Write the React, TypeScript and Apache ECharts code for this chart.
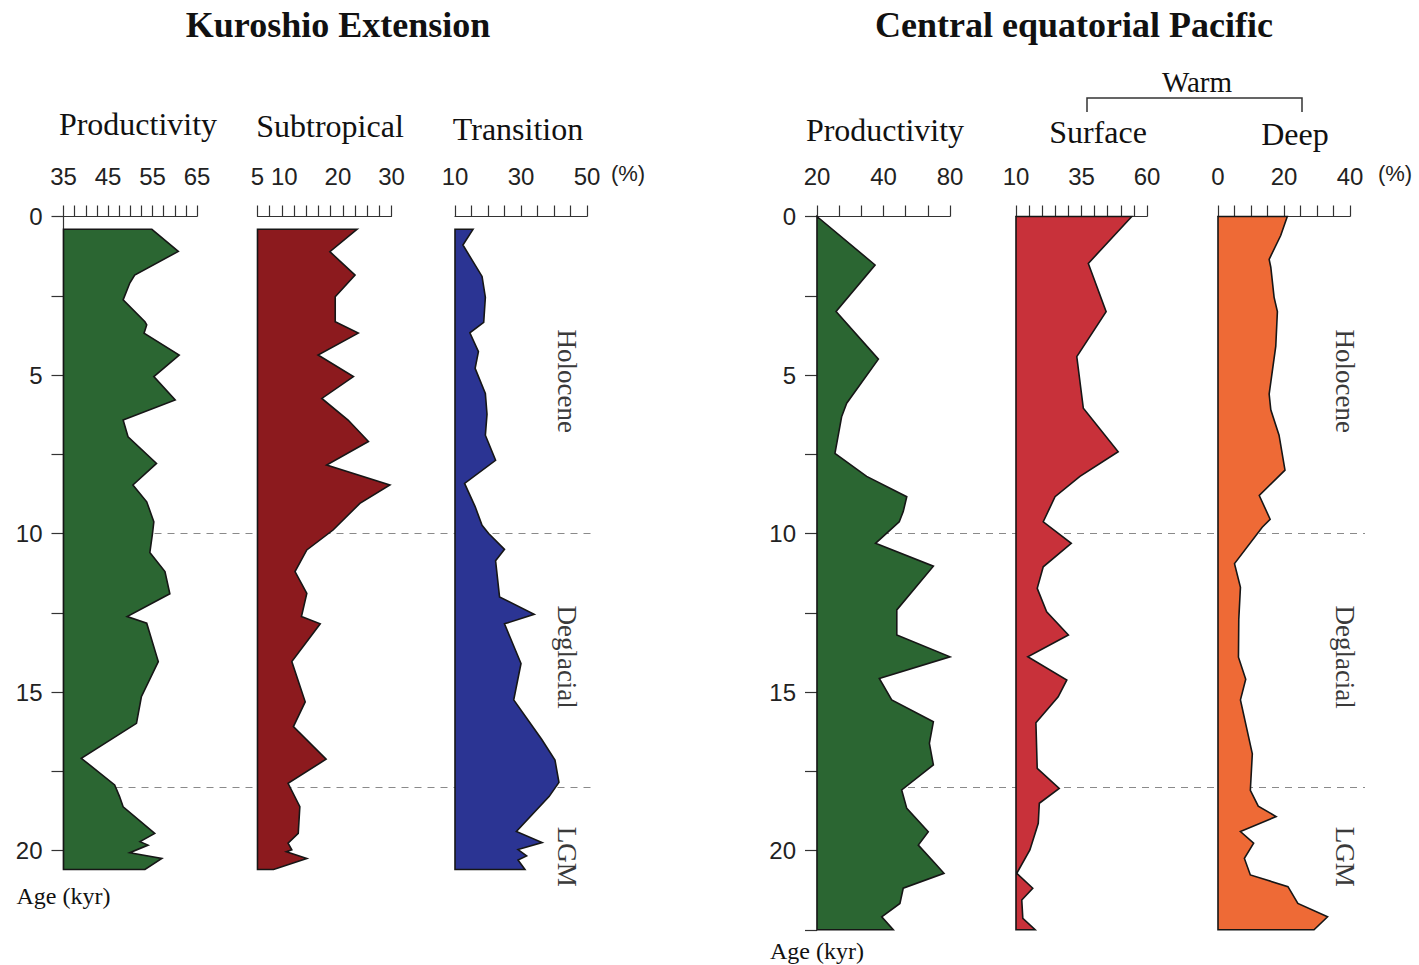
import React, { useEffect, useRef } from "react";
import * as echarts from "echarts";

// ---------------- data ----------------
// Kuroshio Extension
const kuroProdAge = [0.4, 1.1, 1.85, 2.1, 2.63, 3.32, 3.42, 3.68, 4.37, 5.05, 5.79, 6.42, 6.95, 7.79, 8.47, 9.0, 9.63, 10.0, 10.6, 11.2, 11.9, 12.62, 12.83, 14.04, 15.15, 15.99, 17.09, 17.93, 18.3, 18.62, 19.46, 19.72, 19.83, 20.07, 20.25, 20.6];
const kuroProdPct = [54.8, 60.8, 51.0, 49.9, 48.4, 53.3, 53.7, 53.1, 61.0, 55.3, 60.1, 48.4, 49.5, 55.9, 50.6, 53.7, 55.3, 55.0, 54.4, 57.8, 58.9, 49.3, 53.7, 56.3, 52.5, 51.4, 39.0, 46.5, 47.6, 48.4, 55.5, 52.2, 54.0, 49.9, 57.1, 53.3];

const kuroSubtAge = [0.4, 1.11, 1.85, 2.53, 3.32, 3.68, 4.37, 5.05, 5.74, 6.42, 7.1, 7.84, 8.47, 9.05, 9.89, 10.52, 11.2, 11.89, 12.62, 12.85, 14.04, 15.31, 16.09, 17.12, 17.88, 18.62, 19.46, 19.77, 19.98, 20.04, 20.25, 20.6];
const kuroSubtPct = [23.6, 18.5, 23.2, 19.5, 19.5, 23.8, 16.3, 22.9, 17.0, 21.9, 25.7, 17.9, 29.7, 24.1, 19.1, 14.2, 12.0, 14.2, 13.2, 16.7, 11.4, 13.9, 11.7, 17.8, 10.7, 12.9, 12.6, 10.7, 11.4, 10.4, 14.2, 8.0];

const kuroTranAge = [0.4, 0.9, 1.89, 2.55, 3.34, 3.67, 4.26, 4.79, 5.58, 6.24, 6.9, 7.69, 8.42, 9.15, 9.74, 10.0, 10.5, 10.86, 12.0, 12.55, 12.85, 14.1, 15.25, 16.5, 17.15, 17.85, 18.3, 19.4, 19.75, 19.97, 20.17, 20.3, 20.6];
const kuroTranPct = [15.5, 12.4, 18.2, 19.2, 18.7, 14.5, 17.1, 16.1, 19.2, 19.7, 19.2, 22.3, 12.9, 16.1, 18.2, 20.2, 25.0, 22.3, 23.5, 34.0, 25.0, 30.0, 27.8, 36.3, 40.3, 41.5, 38.5, 28.6, 36.4, 29.1, 31.7, 29.1, 31.2];

// Central equatorial Pacific
const cepProdAge = [0, 1.53, 3.0, 4.5, 5.89, 6.32, 7.47, 8.2, 8.84, 9.31, 9.63, 10.31, 11.03, 12.41, 13.2, 13.89, 14.57, 15.25, 15.94, 16.62, 17.3, 18.09, 18.67, 19.41, 19.83, 20.4, 20.72, 21.19, 21.67, 22.09, 22.5];
const cepProdPct = [20, 46.2, 28.6, 47.7, 33.4, 31.1, 28.1, 42.4, 60.5, 58.9, 57.1, 46.4, 72.5, 56.0, 56.0, 80.0, 48.1, 53.7, 72.5, 70.7, 72.5, 58.2, 60.5, 70.2, 65.7, 73.2, 77.3, 58.9, 57.4, 49.2, 54.4];

const cepSurfAge = [0, 1.48, 3.0, 4.42, 6.05, 7.42, 8.2, 8.84, 9.63, 10.31, 11.05, 11.73, 12.47, 13.2, 13.89, 14.62, 15.15, 15.97, 17.41, 18.04, 18.51, 19.14, 19.98, 20.72, 21.19, 21.56, 22.14, 22.5];
const cepSurfPct = [54.2, 37.6, 44.4, 33.2, 35.7, 49.0, 34.4, 24.9, 20.4, 31.1, 20.4, 18.1, 21.7, 30.0, 14.5, 29.4, 26.1, 17.6, 18.1, 26.5, 18.9, 18.5, 15.3, 10.3, 16.4, 12.2, 12.6, 17.3];

const cepDeepAge = [0, 0.6, 1.35, 1.6, 2.55, 3.0, 4.1, 5.6, 6.1, 6.9, 8.0, 8.8, 9.55, 9.8, 10.95, 11.7, 12.7, 13.9, 14.6, 15.25, 16.1, 16.95, 18.1, 18.6, 18.93, 19.4, 19.77, 20.25, 20.77, 21.14, 21.67, 22.09, 22.5];
const cepDeepPct = [21.0, 19.0, 15.5, 16.0, 17.0, 18.0, 17.5, 15.5, 16.0, 18.5, 20.3, 12.5, 15.8, 13.4, 5.0, 6.8, 6.3, 6.2, 8.4, 6.8, 8.6, 10.4, 9.8, 12.2, 17.6, 6.8, 10.8, 8.0, 9.8, 21.2, 24.2, 33.2, 29.1];

// axis tick labels
const kuroProdLabels = [35, 45, 55, 65];
const kuroSubtLabels = [5, 10, 20, 30];
const kuroTranLabels = [10, 30, 50];
const cepProdLabelVals = [20, 50, 80];
const cepProdLabelText = ["20", "40", "80"];
const cepSurfLabels = [10, 35, 60];
const cepDeepLabels = [0, 20, 40];
const ageLabels = [0, 5, 10, 15, 20];

const boundaryAges = [10, 18];
const periods = ["Holocene", "Deglacial", "LGM"];
const periodAges = [5.2, 13.9, 20.2];

const SERIF = "'Liberation Serif', 'Times New Roman', serif";
const SANS = "'Liberation Sans', Arial, sans-serif";

const steps = (a: number, b: number, n: number) =>
  Array.from({ length: n }, (_, k) => a + (k * (b - a)) / (n - 1));

type Col = {
  ages: number[];
  vals: number[];
  min: number;
  max: number;
  labelVals: number[];
  labelText?: string[];
  ticks: number[];
  color: string;
  left: number;
  width: number;
  panel: number;
  first: boolean;
};

const PANELS = [
  { top: 216.5, ageMax: 20.6, left: 63.5, right: 590.5, yTicks: steps(0, 20, 9) },
  { top: 216.5, ageMax: 22.5, left: 817, right: 1365, yTicks: steps(0, 22.5, 10) },
];
const PX_PER_KYR = 31.7;

const COLS: Col[] = [
  { ages: kuroProdAge, vals: kuroProdPct, min: 35, max: 65, labelVals: kuroProdLabels, ticks: steps(35, 65, 13), color: "#2b6632", left: 63.5, width: 133.5, panel: 0, first: true },
  { ages: kuroSubtAge, vals: kuroSubtPct, min: 5, max: 30, labelVals: kuroSubtLabels, ticks: steps(5, 30, 12), color: "#8c1a1e", left: 257.5, width: 134, panel: 0, first: false },
  { ages: kuroTranAge, vals: kuroTranPct, min: 10, max: 50, labelVals: kuroTranLabels, ticks: steps(10, 50, 9), color: "#2b3493", left: 455, width: 132, panel: 0, first: false },
  { ages: cepProdAge, vals: cepProdPct, min: 20, max: 80, labelVals: cepProdLabelVals, labelText: cepProdLabelText, ticks: steps(20, 80, 7), color: "#2b6632", left: 817, width: 133, panel: 1, first: true },
  { ages: cepSurfAge, vals: cepSurfPct, min: 10, max: 60, labelVals: cepSurfLabels, ticks: steps(10, 60, 11), color: "#c8313a", left: 1016, width: 131, panel: 1, first: false },
  { ages: cepDeepAge, vals: cepDeepPct, min: 0, max: 40, labelVals: cepDeepLabels, ticks: steps(0, 40, 9), color: "#ee6a36", left: 1218, width: 132, panel: 1, first: false },
];

export default function App() {
  const ref = useRef<HTMLDivElement>(null);

  useEffect(() => {
    if (!ref.current) return;
    const chart = echarts.init(ref.current, undefined, { renderer: "svg" });

    const grids: any[] = [];
    const xAxes: any[] = [];
    const yAxes: any[] = [];
    const series: any[] = [];

    COLS.forEach((c, i) => {
      const p = PANELS[c.panel];
      grids.push({
        left: c.left,
        top: p.top,
        width: c.width,
        height: p.ageMax * PX_PER_KYR,
        outerBoundsMode: "none",
        containLabel: false,
      });
      xAxes.push({
        gridIndex: i,
        type: "value",
        position: "top",
        min: c.min,
        max: c.max,
        axisLine: { show: true, onZero: false, lineStyle: { color: "#333", width: 1.2 } },
        axisTick: { show: true, length: 11, customValues: c.ticks, lineStyle: { color: "#333", width: 1.2 } },
        axisLabel: {
          show: true,
          customValues: c.labelVals,
          margin: 28,
          fontFamily: SANS,
          fontSize: 24,
          color: "#222",
          formatter: (v: number) => {
            const k = c.labelVals.indexOf(v);
            if (c.labelText && k >= 0) return c.labelText[k];
            return String(v);
          },
        },
        splitLine: { show: false },
      });
      yAxes.push({
        gridIndex: i,
        type: "value",
        inverse: true,
        min: 0,
        max: p.ageMax,
        show: c.first,
        axisLine: { show: true, onZero: false, lineStyle: { color: "#333", width: 1.2 } },
        axisTick: { show: true, length: 12, customValues: p.yTicks, lineStyle: { color: "#333", width: 1.2 } },
        axisLabel: { show: true, customValues: ageLabels, margin: 21, fontFamily: SANS, fontSize: 24, color: "#222" },
        splitLine: { show: false },
        name: c.first ? "Age (kyr)" : "",
        nameLocation: "end",
        nameGap: c.panel === 0 ? 14 : 9,
        nameTextStyle: { fontFamily: SERIF, fontSize: 24, color: "#111", align: "center", verticalAlign: "top" },
      });
      series.push({
        type: "custom",
        xAxisIndex: i,
        yAxisIndex: i,
        z: 5,
        silent: true,
        clip: false,
        data: c.ages.map((a, k) => [c.vals[k], a]),
        encode: { x: 0, y: 1 },
        renderItem: (params: any, api: any) => {
          if (params.dataIndex !== 0) return null;
          const pts = c.vals.map((v, k) => api.coord([v, c.ages[k]]));
          const n = c.ages.length;
          pts.push(api.coord([c.min, c.ages[n - 1]]));
          pts.push(api.coord([c.min, c.ages[0]]));
          return {
            type: "polygon",
            shape: { points: pts },
            style: { fill: c.color, stroke: "#161616", lineWidth: 1.6, lineJoin: "miter" },
          };
        },
      });
    });

    // background grids for the dashed boundaries
    PANELS.forEach((p) => {
      const gi = grids.length;
      grids.push({
        left: p.left,
        top: p.top,
        width: p.right - p.left,
        height: p.ageMax * PX_PER_KYR,
        outerBoundsMode: "none",
        containLabel: false,
      });
      xAxes.push({ gridIndex: gi, type: "value", min: 0, max: 1, show: false });
      yAxes.push({ gridIndex: gi, type: "value", inverse: true, min: 0, max: p.ageMax, show: false });
      series.push({
        type: "line",
        xAxisIndex: gi,
        yAxisIndex: gi,
        z: 1,
        silent: true,
        showSymbol: false,
        lineStyle: { width: 0, opacity: 0 },
        data: [[0, 0]],
        markLine: {
          silent: true,
          symbol: "none",
          label: { show: false },
          lineStyle: { type: [7, 6], color: "#8a8a8a", width: 1.2 },
          data: boundaryAges.map((a) => ({ yAxis: a })),
        },
      });
    });

    const txt = (text: string, x: number, y: number, font: string, extra: any = {}) => ({
      type: "text",
      x,
      y,
      silent: true,
      ...extra,
      style: { text, font, fill: "#111", textAlign: "center", textVerticalAlign: "middle", ...(extra.style || {}) },
    });

    const periodY = (age: number) => PANELS[0].top + age * PX_PER_KYR;

    const graphic: any[] = [
      txt("Kuroshio Extension", 338, 25, `bold 36px ${SERIF}`),
      txt("Central equatorial Pacific", 1074, 25, `bold 36px ${SERIF}`),
      txt("Productivity", 138, 124, `32px ${SERIF}`),
      txt("Subtropical", 330, 126, `32px ${SERIF}`),
      txt("Transition", 518, 129, `32px ${SERIF}`),
      txt("Productivity", 885, 130, `32px ${SERIF}`),
      txt("Surface", 1098, 132, `32px ${SERIF}`),
      txt("Deep", 1295, 134, `32px ${SERIF}`),
      txt("Warm", 1197, 82, `29px ${SERIF}`),
      txt("(%)", 628, 173, `22px ${SANS}`, { style: { fill: "#222" } }),
      txt("(%)", 1395, 173, `22px ${SANS}`, { style: { fill: "#222" } }),
      {
        type: "polyline",
        silent: true,
        shape: { points: [[1087, 112], [1087, 98], [1302, 98], [1302, 112]] },
        style: { stroke: "#333", lineWidth: 1.5, fill: null },
      },
    ];
    [567, 1345].forEach((x) => {
      periods.forEach((name, k) => {
        graphic.push(
          txt(name, x, periodY(periodAges[k]), `27px ${SERIF}`, {
            rotation: -Math.PI / 2,
            style: { fill: "#3a3a3a" },
          })
        );
      });
    });

    chart.setOption({
      animation: false,
      backgroundColor: "#ffffff",
      grid: grids,
      xAxis: xAxes,
      yAxis: yAxes,
      series,
      graphic,
    });

    return () => chart.dispose();
  }, []);

  return (
    <div
      ref={ref}
      style={{ position: "fixed", left: 0, top: 0, width: 1419, height: 965, background: "#fff" }}
    />
  );
}
